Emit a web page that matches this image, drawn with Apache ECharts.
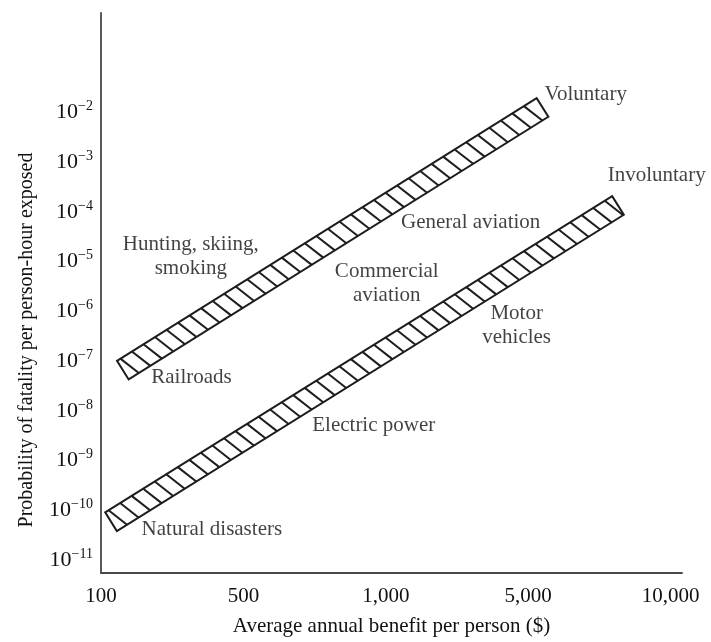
<!DOCTYPE html>
<html>
<head>
<meta charset="utf-8">
<script src="https://cdn.jsdelivr.net/npm/echarts@6/dist/echarts.min.js"></script>
<style>
  html, body { margin: 0; padding: 0; background: #fff; }
  #chart { width: 711px; height: 642px; }
</style>
</head>
<body>
<div id="chart"></div>
<script>
// Benefit axis: evenly spaced tick marks, each labelled with a dollar amount
const benefitTicks = [100, 500, 1000, 5000, 10000];
const benefitTickLabels = ['100', '500', '1,000', '5,000', '10,000'];

// Probability axis: powers of ten that carry a label
const probExponents = [-11, -10, -9, -8, -7, -6, -5, -4, -3, -2];

// Risk bands: [benefit start ($), probability start, benefit end ($), probability end]
const bandNames = ['Voluntary', 'Involuntary'];
const voluntaryBand = [128, 6.6e-8, 5360, 1.26e-2];
const involuntaryBand = [112, 5.9e-11, 7740, 1.35e-4];

// Annotations: text, benefit ($), probability
const noteTexts = [
  'Voluntary', 'Involuntary', 'Hunting, skiing,\nsmoking', 'Railroads',
  'General aviation', 'Commercial\naviation', 'Motor\nvehicles',
  'Electric power', 'Natural disasters'
];
const noteBenefit = [6615, 9343, 276, 278, 2610, 1011, 4387, 943, 350];
const noteProb = [2.26e-2, 5.5e-4, 1.27e-5, 4.8e-8, 6.2e-5, 3.66e-6, 5.3e-7, 5.2e-9, 4.1e-11];

// Place a dollar amount on the benefit axis: log interpolation between neighbouring ticks
function benefitPos(v) {
  for (let i = 0; i < benefitTicks.length - 1; i++) {
    if (v <= benefitTicks[i + 1] || i === benefitTicks.length - 2) {
      return i + Math.log(v / benefitTicks[i]) / Math.log(benefitTicks[i + 1] / benefitTicks[i]);
    }
  }
  return 0;
}
const lg = Math.log10;

const FONT = '"Liberation Serif", "DejaVu Serif", serif';
const INK = '#111';

const bandData = [voluntaryBand, involuntaryBand].map((b, i) => ({
  name: bandNames[i],
  value: [benefitPos(b[0]), lg(b[1]), benefitPos(b[2]), lg(b[3])]
}));

const noteData = noteTexts.map((t, i) => ({
  name: t,
  value: [benefitPos(noteBenefit[i]), lg(noteProb[i])]
}));

// Hatched band: a rotated strip outlined in black, filled with slanted strokes
const BAND_HALF = 11;
const HATCH_STEP = 13.6;
const HATCH_SKEW = 8;
function renderBand(params, api) {
  const p1 = api.coord([api.value(0), api.value(1)]);
  const p2 = api.coord([api.value(2), api.value(3)]);
  const dx = p2[0] - p1[0], dy = p2[1] - p1[1];
  const L = Math.hypot(dx, dy);
  const u = [dx / L, dy / L];
  const n = [u[1], -u[0]];
  const h = BAND_HALF;
  const pt = (t, s) => [p1[0] + u[0] * t + n[0] * s, p1[1] + u[1] * t + n[1] * s];
  const lineStyle = { stroke: '#1d1d1d', lineWidth: 2, fill: null };
  const children = [{
    type: 'polygon',
    shape: { points: [pt(0, h), pt(L, h), pt(L, -h), pt(0, -h)] },
    style: { fill: '#fff', stroke: '#1d1d1d', lineWidth: 2, lineJoin: 'miter' }
  }];
  for (let t = 4; t + HATCH_SKEW <= L; t += HATCH_STEP) {
    const a = pt(t, h), b = pt(t + HATCH_SKEW, -h);
    children.push({
      type: 'line',
      shape: { x1: a[0], y1: a[1], x2: b[0], y2: b[1] },
      style: lineStyle
    });
  }
  return { type: 'group', children };
}

const chart = echarts.init(document.getElementById('chart'), null, { renderer: 'canvas' });
chart.setOption({
  backgroundColor: '#fff',
  animation: false,
  grid: { left: 101, right: 29, top: 13, bottom: 59 },
  xAxis: {
    type: 'value',
    min: 0,
    max: 4.08,
    name: 'Average annual benefit per person ($)',
    nameLocation: 'middle',
    nameGap: 43,
    nameTextStyle: { fontFamily: FONT, fontSize: 21, color: INK },
    axisLine: { show: true, onZero: false, lineStyle: { color: '#4a4a4a', width: 2 } },
    axisTick: { show: false },
    splitLine: { show: false },
    axisLabel: {
      customValues: [0, 1, 2, 3, 4],
      formatter: v => benefitTickLabels[Math.round(v)],
      fontFamily: FONT, fontSize: 21, color: INK, margin: 13
    }
  },
  yAxis: {
    type: 'value',
    min: -11.26,
    max: 0,
    axisLine: { show: true, onZero: false, lineStyle: { color: '#5a5a5a', width: 2 } },
    axisTick: { show: false },
    splitLine: { show: false },
    axisLabel: {
      customValues: probExponents,
      margin: 8,
      formatter: v => '{b|10}{s|\u2212' + (-v) + '}',
      rich: {
        b: { fontFamily: FONT, fontSize: 22, color: INK },
        s: { fontFamily: FONT, fontSize: 14, color: INK, padding: [0, 0, 12, 0] }
      }
    }
  },
  graphic: [{
    type: 'text',
    x: 27,
    y: 340,
    rotation: Math.PI / 2,
    style: {
      text: 'Probability of fatality per person-hour exposed',
      font: '20px ' + FONT,
      fill: INK,
      align: 'center',
      verticalAlign: 'middle'
    }
  }],
  series: [{
    type: 'custom',
    renderItem: renderBand,
    data: bandData,
    clip: false,
    silent: true
  }, {
    type: 'scatter',
    symbolSize: 0,
    silent: true,
    data: noteData,
    label: {
      show: true,
      position: 'inside',
      formatter: p => p.name,
      fontFamily: FONT,
      fontSize: 21,
      lineHeight: 24,
      color: INK,
      align: 'center',
      verticalAlign: 'middle'
    }
  }]
});
</script>
</body>
</html>
